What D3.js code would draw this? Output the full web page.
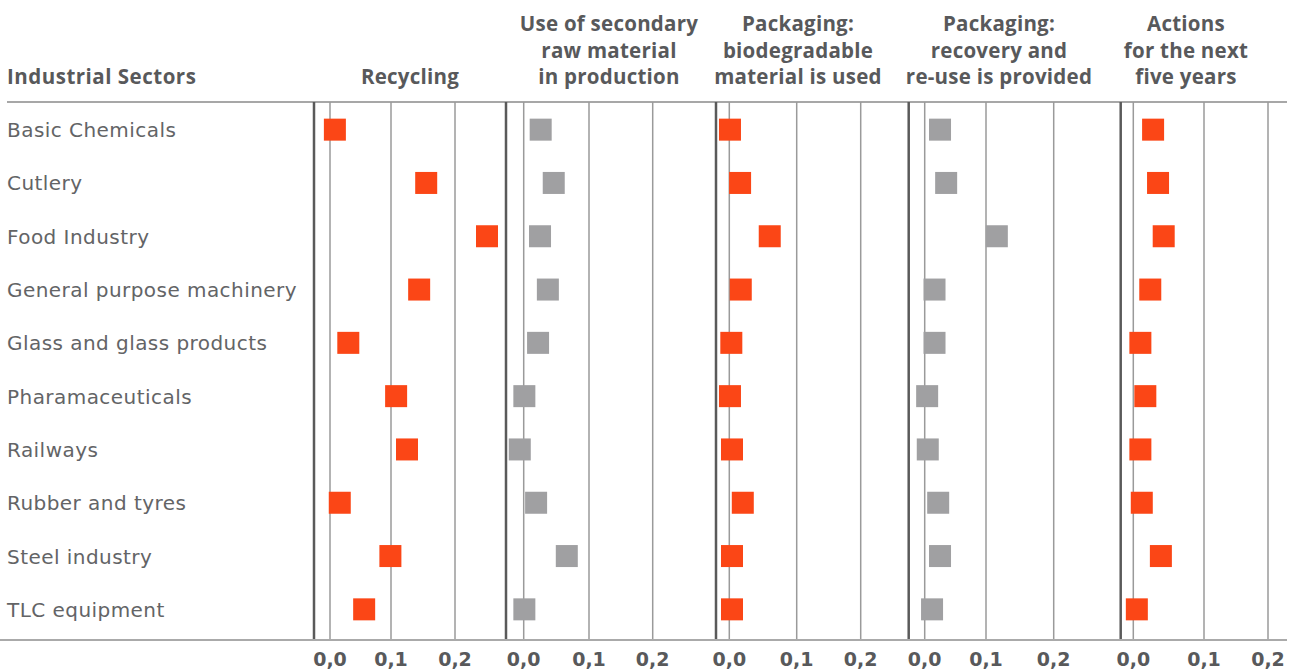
<!DOCTYPE html>
<html>
<head>
<meta charset="utf-8">
<script src="https://cdn.jsdelivr.net/npm/d3@7"></script>
<style>
  html, body { margin: 0; padding: 0; background: #fff; }
  svg { display: block; }
</style>
</head>
<body>
<div class="vis-dots"></div>
<script>
// sectors (rows)
const sectors = [
  "Basic Chemicals",
  "Cutlery",
  "Food Industry",
  "General purpose machinery",
  "Glass and glass products",
  "Pharamaceuticals",
  "Railways",
  "Rubber and tyres",
  "Steel industry",
  "TLC equipment"
];

// panel titles, one line per entry
const titles = [
  ["Recycling"],
  ["Use of secondary", "raw material", "in production"],
  ["Packaging:", "biodegradable", "material is used"],
  ["Packaging:", "recovery and", "re-use is provided"],
  ["Actions", "for the next", "five years"]
];

// values, one array per panel
const recycling    = [0.008, 0.155, 0.250, 0.144, 0.030, 0.108, 0.125, 0.016, 0.099, 0.056];
const secondaryRaw = [0.026, 0.046, 0.025, 0.037, 0.022, 0.001, -0.006, 0.019, 0.066, 0.001];
const biodegrad    = [0.001, 0.016, 0.060, 0.017, 0.003, 0.001, 0.004, 0.020, 0.004, 0.004];
const recoveryReuse = [0.025, 0.035, 0.116, 0.016, 0.016, 0.004, 0.005, 0.022, 0.025, 0.012];
const nextFiveYears = [0.028, 0.035, 0.043, 0.024, 0.010, 0.017, 0.010, 0.012, 0.039, 0.005];

const series = [recycling, secondaryRaw, biodegrad, recoveryReuse, nextFiveYears];
const seriesColor = ["#FB4616", "#A0A0A2", "#FB4616", "#A0A0A2", "#FB4616"];

const ticks = [0, 0.1, 0.2];
const tickFormat = d => d3.format(".1f")(d).replace(".", ",");

// layout
const W = 1295, H = 671;
const yTop = 102, yBottom = 640;
const sepX   = [314, 506, 716, 908.7, 1120.7];          // panel separators
const gridPx = [                                        // pixel of 0.0 / 0.1 / 0.2
  [330, 391, 455],
  [523.7, 589, 652.7],
  [729.3, 796.7, 860.7],
  [924.7, 986, 1053.7],
  [1133.3, 1204, 1268]
];
const titleX = [410, 609, 798, 999, 1186];
const rightEnd = 1287;
const markW = 22, markH = 22;

const textColor = "#58595B";

const svg = d3.select(".vis-dots")
  .append("svg")
  .attr("width", W)
  .attr("height", H);

const y = d3.scaleBand().domain(sectors).range([103, 636]);
const yMid = d => y(d) + y.bandwidth() / 2;

// header line
svg.append("line")
  .attr("x1", 7).attr("x2", rightEnd)
  .attr("y1", yTop).attr("y2", yTop)
  .attr("stroke", "#8a8a8a")
  .attr("stroke-width", 1.5);

svg.append("text")
  .attr("x", 7)
  .attr("y", 84)
  .attr("fill", textColor)
  .style("font-family", "Open Sans")
  .style("font-weight", 700)
  .style("font-size", "20.5px")
  .style("letter-spacing", "0.5px")
  .text("Industrial Sectors");

svg.selectAll(".sector")
  .data(sectors)
  .enter()
  .append("text")
  .attr("class", "sector")
  .attr("x", 7)
  .attr("y", d => yMid(d) + 7.5)
  .attr("fill", "#636466")
  .style("font-family", "DejaVu Sans")
  .style("font-size", "20px")
  .style("letter-spacing", "0.45px")
  .text(d => d);

series.forEach((vals, p) => {
  const x = d3.scaleLinear().domain(ticks).range(gridPx[p]);
  const g = svg.append("g").attr("class", "panel");

  // grid
  g.selectAll(".grid")
    .data(ticks)
    .enter()
    .append("line")
    .attr("x1", d => x(d)).attr("x2", d => x(d))
    .attr("y1", yTop).attr("y2", yBottom)
    .attr("stroke", "#9a9a9a")
    .attr("stroke-width", 1.5);

  // separator
  g.append("line")
    .attr("x1", sepX[p]).attr("x2", sepX[p])
    .attr("y1", yTop).attr("y2", yBottom)
    .attr("stroke", "#5a5a5a")
    .attr("stroke-width", 2.5);

  // tick labels
  g.selectAll(".tick")
    .data(ticks)
    .enter()
    .append("text")
    .attr("x", d => x(d))
    .attr("y", 666)
    .attr("text-anchor", "middle")
    .attr("fill", textColor)
    .style("font-family", "DejaVu Sans")
    .style("font-weight", 700)
    .style("font-size", "19px")
    .text(tickFormat);

  // title
  const t = g.append("text")
    .attr("text-anchor", "middle")
    .attr("fill", textColor)
    .style("font-family", "Open Sans")
    .style("font-weight", 700)
    .style("font-size", "20.5px")
    .style("letter-spacing", "0.25px");
  const lines = titles[p];
  lines.forEach((ln, i) => {
    t.append("tspan")
      .attr("x", titleX[p])
      .attr("y", 84 - (lines.length - 1 - i) * 26.5)
      .text(ln);
  });

  // markers
  g.selectAll(".mark")
    .data(vals)
    .enter()
    .append("rect")
    .attr("x", d => x(d) - markW / 2)
    .attr("y", (d, i) => yMid(sectors[i]) - markH / 2)
    .attr("width", markW)
    .attr("height", markH)
    .attr("fill", seriesColor[p]);
});

// bottom axis line
svg.append("line")
  .attr("x1", 0).attr("x2", rightEnd)
  .attr("y1", yBottom).attr("y2", yBottom)
  .attr("stroke", "#aaaaaa")
  .attr("stroke-width", 2);
</script>
</body>
</html>
